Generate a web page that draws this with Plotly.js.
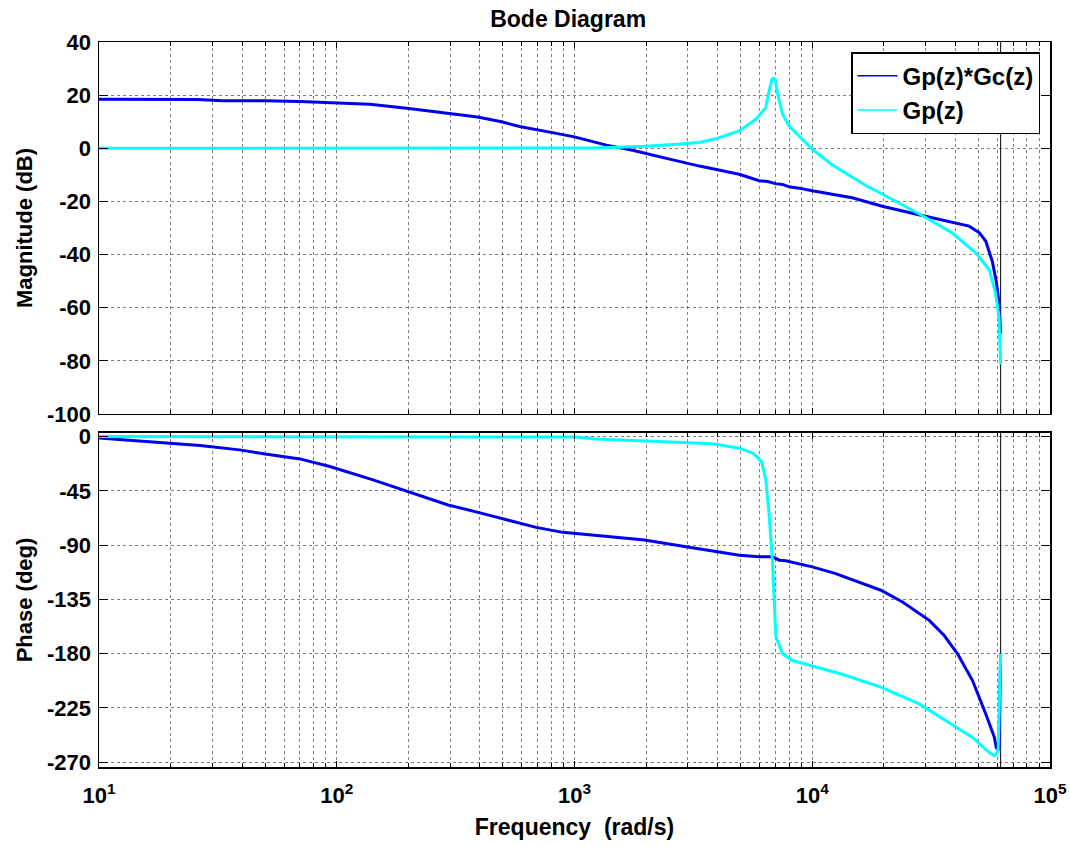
<!DOCTYPE html>
<html>
<head>
<meta charset="utf-8">
<script src="https://cdn.plot.ly/plotly-3.0.1.min.js"></script>
<style>html,body{margin:0;padding:0;background:#fff;}#chart{width:1070px;height:846px;}</style>
</head>
<body>
<div id="chart"></div>
<script>
// ---- data ----
const seriesNames = ["Gp(z)*Gc(z)", "Gp(z)"];
const nyquistFreq = 62000;

const magFreqGpGc = [10, 20, 26, 33, 50, 70, 100, 138, 197, 292, 391, 493, 587, 808, 1000, 1362, 1754, 2437, 3352, 4930, 5984, 6500, 7000, 7500, 8000, 8800, 10000, 14730, 19700, 28970, 36470, 45700, 50500, 53700, 57200, 59400, 61000, 62000];
const magGpGc     = [18.5, 18.5, 18.4, 17.9, 17.9, 17.6, 17.2, 16.6, 15.1, 13.2, 11.8, 10.0, 8.2, 5.9, 4.3, 1.2, -0.75, -3.8, -6.7, -9.8, -12.2, -12.5, -13.3, -13.6, -14.5, -15.0, -16.0, -18.6, -21.8, -25.3, -27.4, -29.3, -31.8, -35, -42.6, -50, -58, -69.6];

const magFreqGp = [10, 100, 1000, 1190, 1500, 2000, 2700, 3350, 4000, 4930, 5790, 6380, 6580, 6770, 6900, 7000, 7150, 7500, 8000, 8810, 10020, 12160, 14290, 16800, 19700, 24000, 28970, 38700, 48800, 55500, 58800, 61000, 62000];
const magGp     = [0, 0, 0, 0.1, 0.4, 0.8, 1.5, 2.2, 3.8, 6.5, 10.9, 15.3, 21.6, 26, 26.3, 25.7, 20.4, 12.8, 8.4, 4.6, -0.4, -6.3, -10.2, -14.0, -17.2, -21.2, -25.3, -31.8, -39.4, -45.7, -53.8, -63, -81.4];

const phFreqGpGc = [10, 20, 26.6, 39, 50, 70, 93.5, 140, 196, 294, 393, 492, 690, 893, 1000, 1970, 2946, 3813, 4935, 5980, 6580, 6810, 7270, 7740, 10000, 12560, 19430, 23980, 31060, 35900, 40830, 47220, 53700, 58350, 59400, 61000, 62000];
const phGpGc     = [-1.2, -5.4, -7.4, -11, -14.5, -18.5, -24.8, -35.5, -45.1, -56.7, -62.8, -67.8, -75.3, -79.4, -80.3, -85.8, -91.4, -94.7, -98.3, -99.7, -99.5, -99.7, -102.5, -103, -108, -113.6, -127.4, -137.2, -152.4, -165, -180.1, -202.3, -230, -249.4, -257.8, -260, -180];

const phFreqGp = [10, 500, 1000, 1233, 1970, 2946, 3813, 4935, 5640, 6120, 6380, 6580, 6810, 7030, 7500, 8260, 10000, 13480, 19430, 28180, 36470, 47220, 55500, 58350, 60500, 62000];
const phGp     = [0, 0, -0.4, -2, -3.5, -4.6, -6, -9.6, -13.8, -20.7, -36, -63.6, -105, -166, -180, -185.7, -190.4, -197.3, -207.8, -221.7, -235.6, -249.5, -262, -264.7, -261, -180];

const xDecades = [10, 100, 1000, 10000, 100000];
const xTickText = ["10<sup>1</sup>", "10<sup>2</sup>", "10<sup>3</sup>", "10<sup>4</sup>", "10<sup>5</sup>"];
const magTicks = [-100, -80, -60, -40, -20, 0, 20, 40];
const phTicks = [-270, -225, -180, -135, -90, -45, 0];
const magRange = [-100, 40];
const phRange = [-274, 3];

// ---- styling ----
const blue = "#0000ee";
const cyan = "#00ffff";
const fam = "Arial, 'Liberation Sans', sans-serif";
const font = {family: fam, size: 22, color: "#000", weight: 700};
const yTitleFont = {family: fam, size: 22, color: "#000", weight: 700};
const hTitleFont = {family: fam, size: 23, color: "#000", weight: 700};
const legendFont = {family: fam, size: 24, color: "#000", weight: 700};
const gridColor = "rgba(40,40,40,0.6)";

const minorX = [];
for (let i = 0; i < xDecades.length - 1; i++) {
  for (let m = 2; m <= 9; m++) minorX.push(xDecades[i] * m);
}

const traces = [
  {x: [nyquistFreq, nyquistFreq], y: magRange, xaxis: "x", yaxis: "y", mode: "lines", line: {color: "#000", width: 1}, showlegend: false, hoverinfo: "skip"},
  {x: [nyquistFreq, nyquistFreq], y: phRange, xaxis: "x2", yaxis: "y2", mode: "lines", line: {color: "#000", width: 1}, showlegend: false, hoverinfo: "skip"},
  {x: magFreqGpGc, y: magGpGc, xaxis: "x", yaxis: "y", mode: "lines", line: {color: blue, width: 3}, showlegend: false},
  {x: magFreqGp, y: magGp, xaxis: "x", yaxis: "y", mode: "lines", line: {color: cyan, width: 3}, showlegend: false},
  {x: phFreqGpGc, y: phGpGc, xaxis: "x2", yaxis: "y2", mode: "lines", line: {color: blue, width: 3}, showlegend: false},
  {x: phFreqGp, y: phGp, xaxis: "x2", yaxis: "y2", mode: "lines", line: {color: cyan, width: 3}, showlegend: false},
  {x: [null], y: [null], xaxis: "x", yaxis: "y", mode: "lines", name: seriesNames[0], line: {color: blue, width: 1.5}},
  {x: [null], y: [null], xaxis: "x", yaxis: "y", mode: "lines", name: seriesNames[1], line: {color: cyan, width: 1.5}}
];

function xAxis(showLabels, anchor) {
  return {
    type: "log", range: [1, 5], anchor: anchor,
    tickmode: "array", tickvals: xDecades, ticktext: xTickText, showticklabels: showLabels,
    ticks: "inside", ticklen: 6, tickcolor: "#000", tickwidth: 1,
    showline: true, linecolor: "#000", linewidth: 1.5, mirror: "ticks",
    showgrid: true, gridcolor: gridColor, griddash: "dot", gridwidth: 1,
    minor: {tickmode: "array", tickvals: minorX, ticks: "inside", ticklen: 4, tickcolor: "#000", showgrid: true, gridcolor: gridColor, griddash: "dot", gridwidth: 1},
    zeroline: false, tickfont: font, ticklabelstandoff: 8
  };
}
function yAxis(range, ticks, domain, anchor, titleText) {
  return {
    range: range, domain: domain, anchor: anchor,
    tickmode: "array", tickvals: ticks, ticktext: ticks.map(String),
    ticks: "inside", ticklen: 9, tickcolor: "#000", tickwidth: 1,
    showline: true, linecolor: "#000", linewidth: 1.5, mirror: "ticks",
    showgrid: true, gridcolor: gridColor, griddash: "dot", gridwidth: 1,
    zeroline: false, tickfont: font, ticklabelstandoff: 2,
    title: {text: titleText, font: yTitleFont, standoff: 8}
  };
}

const xa1 = xAxis(false, "y");
xa1.domain = [0, 1];
const xa2 = xAxis(true, "y2");
xa2.domain = [0, 1];
xa2.title = {text: "Frequency  (rad/s)", font: hTitleFont, standoff: 12};

const layout = {
  width: 1070, height: 846,
  margin: {l: 99, r: 20, t: 42, b: 79},
  paper_bgcolor: "#fff", plot_bgcolor: "#fff",
  font: font,
  title: {text: "Bode Diagram", font: hTitleFont, x: 0.531, xref: "container", y: 0.978, yref: "container", xanchor: "center", yanchor: "middle"},
  xaxis: xa1,
  xaxis2: xa2,
  yaxis: yAxis(magRange, magTicks, [0.4869, 1], "x", "Magnitude (dB)"),
  yaxis2: yAxis(phRange, phTicks, [0, 0.4607], "x2", "Phase (deg)"),
  showlegend: true,
  legend: {x: 0.9895, y: 0.986, xref: "paper", yref: "paper", xanchor: "right", yanchor: "top",
           bgcolor: "#fff", bordercolor: "#000", borderwidth: 1.5, font: legendFont, itemwidth: 40,
           tracegroupgap: 0}
};

Plotly.newPlot("chart", traces, layout, {displayModeBar: false, staticPlot: true});
</script>
</body>
</html>
